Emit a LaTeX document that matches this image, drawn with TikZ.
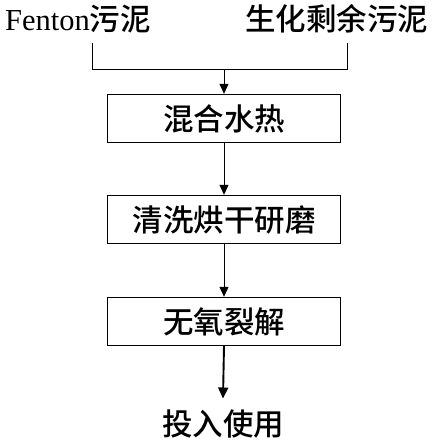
\documentclass[tikz,border=0pt]{standalone}
\usepackage{fontspec}
\setmainfont{Liberation Serif}
\newfontfamily\cjk{Noto Sans CJK SC Medium}
\usetikzlibrary{arrows.meta}
\begin{document}
\begin{tikzpicture}[
  txt/.style={inner sep=0pt,font=\fontsize{30.5}{36}\selectfont},
  stepbox/.style={draw,line width=1.4pt,minimum width=233pt,minimum height=48pt,inner sep=0pt,font=\fontsize{30.5}{36}\selectfont\cjk},
  conn/.style={line width=1pt},
  arr/.style={line width=1pt,-{Triangle[length=10pt,width=9pt]}},
  arrthick/.style={line width=1.9pt,-{Triangle[length=11pt,width=10pt]}}]
\useasboundingbox (0pt,0pt) rectangle (432pt,-444pt);
\node[txt,anchor=base] (fenton) at (78pt,-31pt) {Fenton{\cjk 污泥}};
\node[txt,anchor=base] (bio) at (336.5pt,-31pt) {\cjk 生化剩余污泥};
\coordinate (fl) at (92pt,-43pt);
\coordinate (fr) at (347pt,-43pt);
\coordinate (j) at (224pt,-69pt);
\node[stepbox] (b1) at (224pt,-118.5pt) {\raisebox{-3pt}{混合水热}};
\node[stepbox] (b2) at (224pt,-219.5pt) {\raisebox{-3pt}{清洗烘干研磨}};
\node[stepbox] (b3) at (224pt,-321.5pt) {\raisebox{-3pt}{无氧裂解}};
\node[txt,font=\fontsize{30.5}{36}\selectfont\cjk] (out) at (223pt,-424pt) {投入使用};
\draw[conn] (fl) |- (j);
\draw[conn] (fr) |- (j);
\draw[arr] (j) -- (b1.north);
\draw[arr] (b1.south) -- (b2.north);
\draw[arr] (b2.south) -- (b3.north);
\draw[arrthick] (b3.south) -- ([yshift=11pt]out.north);
\end{tikzpicture}
\end{document}
